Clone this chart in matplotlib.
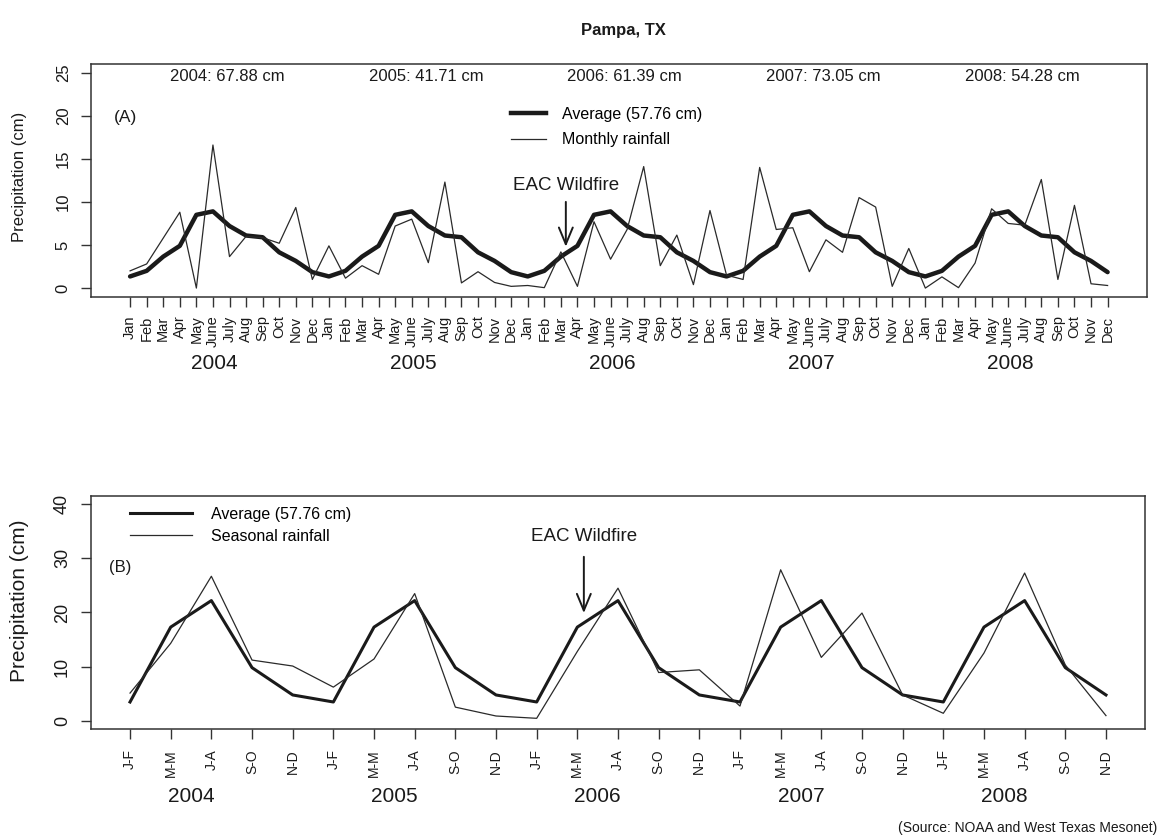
import numpy as np
import matplotlib
matplotlib.use('Agg')
import matplotlib.pyplot as plt
from matplotlib.lines import Line2D

plt.rcParams['font.family'] = ['Liberation Sans', 'DejaVu Sans']

# datos
years = ['2004', '2005', '2006', '2007', '2008']
year_totals = [67.88, 41.71, 61.39, 73.05, 54.28]
month_names = ['Jan', 'Feb', 'Mar', 'Apr', 'May', 'June', 'July', 'Aug', 'Sep', 'Oct', 'Nov', 'Dec']
season_names = ['J-F', 'M-M', 'J-A', 'S-O', 'N-D']

# promedio mensual (el mismo cada año)
avg_month = [1.35, 2.0, 3.65, 4.9, 8.5, 8.9, 7.2, 6.1, 5.9, 4.15, 3.15, 1.85]

monthly_rain = [
    2.0, 2.8, 5.8, 8.8, 0.0, 16.6, 3.65, 6.0, 5.85, 5.2, 9.35, 1.0,    # 2004
    4.9, 1.15, 2.6, 1.6, 7.2, 8.0, 2.95, 12.3, 0.6, 1.9, 0.65, 0.2,    # 2005
    0.3, 0.05, 4.2, 0.2, 7.7, 3.35, 6.8, 14.1, 2.6, 6.15, 0.4, 9.0,    # 2006
    1.5, 1.0, 14.0, 6.8, 7.0, 1.9, 5.6, 4.15, 10.5, 9.4, 0.2, 4.6,     # 2007
    0.0, 1.3, 0.05, 2.9, 9.2, 7.5, 7.3, 12.6, 1.0, 9.6, 0.5, 0.3,      # 2008
]

# promedio estacional (el mismo cada año)
avg_season = [3.45, 17.3, 22.2, 9.8, 4.75]

seasonal_rain = [
    5.1, 14.3, 26.7, 11.2, 10.1,     # 2004
    6.2, 11.4, 23.5, 2.5, 0.86,      # 2005
    0.43, 12.8, 24.5, 8.9, 9.4,      # 2006
    2.7, 27.9, 11.7, 19.9, 4.75,     # 2007
    1.36, 12.5, 27.3, 10.3, 0.93,    # 2008
]

wildfire_month = 26.3    # 12 de marzo 2006 (indice mensual)
wildfire_season = 11.16  # en el eje estacional

W, H = 1159, 838
fig = plt.figure(figsize=(W / 100, H / 100), dpi=100)
fig.patch.set_facecolor('white')

ink = '#1a1a1a'
thin = '#2a2a2a'


def estilo(ax):
    for s in ax.spines.values():
        s.set_color('#333333')
        s.set_linewidth(1.1)
    ax.tick_params(direction='out', length=7.5, width=1.0, color='#333333', labelcolor=ink)
    ax.tick_params(axis='y', labelsize=12, pad=7)
    for lab in ax.get_yticklabels():
        lab.set_rotation(90)
        lab.set_va('center')


# ---------------- Panel A: mensual ----------------
ax1 = fig.add_axes([91 / W, 1 - 296.7 / H, (1146.7 - 91) / W, (296.7 - 64) / H])
x1 = np.arange(len(monthly_rain))
avg1 = np.tile(avg_month, len(years))
ax1.plot(x1, avg1, color=ink, lw=3.2, solid_joinstyle='round', solid_capstyle='round')
ax1.plot(x1, monthly_rain, color=thin, lw=0.9)
ax1.set_xlim(-2.36, 61.36)
ax1.set_ylim(-1, 26)
ax1.set_xticks(x1)
ax1.set_xticklabels(month_names * len(years), rotation=90, fontsize=10.5, va='top', ha='center')
ax1.set_yticks(range(0, 26, 5))
estilo(ax1)
ax1.tick_params(axis='x', pad=6)

for k, (yr, tot) in enumerate(zip(years, year_totals)):
    ax1.text(5.85 + 12 * k, 24.5, f'{yr}: {tot:.2f} cm', ha='center', va='center', fontsize=12, color=ink)
    ax1.text(5.1 + 12 * k, -0.286, yr, transform=ax1.get_xaxis_transform(),
             ha='center', va='center', fontsize=15, color=ink)

ax1.text(-0.95, 19.8, '(A)', ha='left', va='center', fontsize=12.5, color=ink)
ax1.text(wildfire_month, 11.85, 'EAC Wildfire', ha='center', va='center', fontsize=13.5, color=ink)
ax1.annotate('', xy=(wildfire_month, 4.8), xytext=(wildfire_month, 10.0),
             arrowprops=dict(arrowstyle='->,head_length=0.6,head_width=0.25', lw=1.4,
                             color=ink, shrinkA=0, shrinkB=0, mutation_scale=20))

h1 = [Line2D([], [], color=ink, lw=3.2), Line2D([], [], color=thin, lw=0.9)]
ax1.legend(h1, ['Average (57.76 cm)', 'Monthly rainfall'], loc='upper left',
           bbox_to_anchor=(0.3976, 0.815), frameon=False, fontsize=11.5,
           borderpad=0, borderaxespad=0, handlelength=2.2, handletextpad=1.0,
           labelspacing=0.65)

fig.text(20 / W, 1 - 177 / H, 'Precipitation (cm)', rotation=90, ha='center', va='center',
         fontsize=12, color=ink)

# ---------------- Panel B: estacional ----------------
ax2 = fig.add_axes([91 / W, 1 - 729.3 / H, (1145 - 91) / W, (729.3 - 495.7) / H])
x2 = np.arange(len(seasonal_rain))
avg2 = np.tile(avg_season, len(years))
ax2.plot(x2, avg2, color=ink, lw=2.2, solid_joinstyle='round')
ax2.plot(x2, seasonal_rain, color=thin, lw=0.9)
ax2.set_xlim(-0.96, 24.96)
ax2.set_ylim(-1.6, 41.6)
ax2.set_xticks(x2)
ax2.set_xticklabels(season_names * len(years), rotation=90, fontsize=10, va='top', ha='center')
ax2.set_yticks(range(0, 41, 10))
estilo(ax2)
ax2.tick_params(axis='y', labelsize=13)
ax2.tick_params(axis='x', pad=7)

for k, yr in enumerate(years):
    ax2.text(1.5 + 5 * k, -0.2885, yr, transform=ax2.get_xaxis_transform(),
             ha='center', va='center', fontsize=15, color=ink)

ax2.text(-0.51, 28.4, '(B)', ha='left', va='center', fontsize=12, color=ink)
ax2.text(wildfire_season, 34.0, 'EAC Wildfire', ha='center', va='center', fontsize=13.5, color=ink)
ax2.annotate('', xy=(wildfire_season, 19.9), xytext=(wildfire_season, 30.3),
             arrowprops=dict(arrowstyle='->,head_length=0.6,head_width=0.25', lw=1.4,
                             color=ink, shrinkA=0, shrinkB=0, mutation_scale=20))

h2 = [Line2D([], [], color=ink, lw=2.2), Line2D([], [], color=thin, lw=0.9)]
ax2.legend(h2, ['Average (57.76 cm)', 'Seasonal rainfall'], loc='upper left',
           bbox_to_anchor=(0.037, 0.952), frameon=False, fontsize=11.5,
           borderpad=0, borderaxespad=0, handlelength=3.9, handletextpad=1.2,
           labelspacing=0.43)

fig.text(20 / W, 1 - 600.5 / H, 'Precipitation (cm)', rotation=90, ha='center', va='center',
         fontsize=15, color=ink)

fig.text(623 / W, 1 - 30 / H, 'Pampa, TX', ha='center', va='center', fontsize=12,
         fontweight='bold', color=ink)
fig.text(1157 / W, 1 - 828 / H, '(Source: NOAA and West Texas Mesonet)', ha='right', va='center',
         fontsize=10, color=ink)

fig.savefig('out.png', dpi=100, facecolor='white')
